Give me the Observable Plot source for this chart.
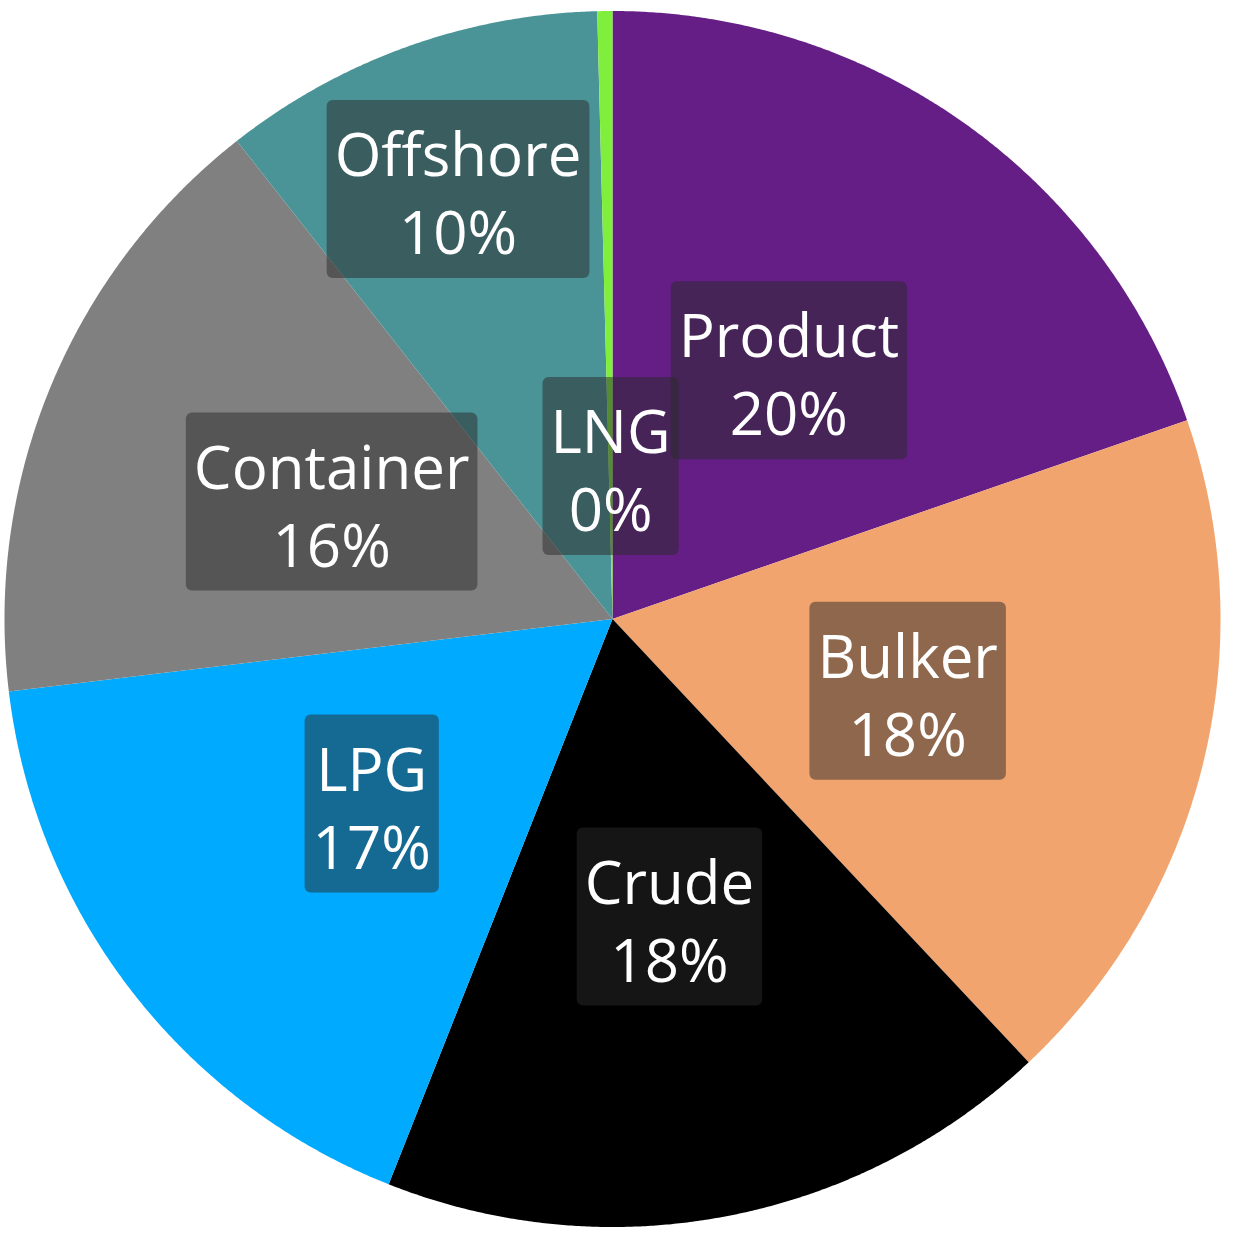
<!DOCTYPE html>
<html><head><meta charset="utf-8">
<script src="https://cdn.jsdelivr.net/npm/d3@7"></script>
<script src="https://cdn.jsdelivr.net/npm/@observablehq/plot@0.6"></script>
<style>html,body{margin:0;padding:0;background:#fff} svg{display:block}</style>
</head><body><div id="chart"></div>
<script>
// Data (shares in %; clockwise from 12 o'clock)
const categories = ["Product", "Bulker", "Crude", "LPG", "Container", "Offshore", "LNG"];
const shares = [19.7, 18.3, 18.0, 17.1, 16.3, 10.2, 0.4];

// Style
const palette = ["#641E86", "#F2A46E", "#000000", "#00AAFF", "#808080", "#4A9396", "#80EE3C"];
const labelRadius = {Offshore: 0.75, LNG: 0.25}; // others at 0.5 of radius

const total = d3.sum(shares);
const arcs = d3.pie().sort(null).value(d => d)(shares);
const step = Math.PI / 720;

const slices = arcs.map((a, i) => {
  const n = Math.max(2, Math.ceil((a.endAngle - a.startAngle) / step));
  const ring = [[0, 0]];
  for (let k = 0; k <= n; k++) {
    const t = a.startAngle + (a.endAngle - a.startAngle) * k / n;
    ring.push([Math.sin(t), Math.cos(t)]);
  }
  ring.push([0, 0]);
  return {type: "Feature", properties: {category: categories[i]}, geometry: {type: "Polygon", coordinates: [ring]}};
});

const labels = arcs.map((a, i) => {
  const mid = (a.startAngle + a.endAngle) / 2;
  const r = labelRadius[categories[i]] ?? 0.5;
  return {
    category: categories[i],
    pct: Math.round(shares[i] / total * 100),
    x: r * Math.sin(mid),
    y: r * Math.cos(mid)
  };
});

const chart = Plot.plot({
  width: 1234,
  height: 1250,
  marginLeft: 4,
  marginRight: 14,
  marginTop: 10,
  marginBottom: 23,
  projection: {type: "reflect-y", domain: {type: "MultiPoint", coordinates: [[-1, -1], [1, 1]]}},
  color: {domain: categories, range: palette},
  style: {background: "white"},
  marks: [
    Plot.geo(slices, {fill: d => d.properties.category, stroke: "none"}),
    Plot.text(labels, {
      x: "x", y: "y",
      text: d => `${d.category}\n${d.pct}%`,
      fill: "white",
      fontSize: 60,
      fontFamily: "Open Sans, Noto Sans, sans-serif",
      lineHeight: 1.3,
      className: "slice-label"
    })
  ]
});
document.getElementById("chart").appendChild(chart);

// Rounded translucent boxes behind the labels
const textG = chart.querySelector("g.slice-label") || [...chart.querySelectorAll("g[aria-label='text']")].pop();
if (textG) {
  const ns = "http://www.w3.org/2000/svg";
  const boxG = document.createElementNS(ns, "g");
  if (textG.getAttribute("transform")) boxG.setAttribute("transform", textG.getAttribute("transform"));
  textG.querySelectorAll("text").forEach(t => {
    const b = t.getBBox();
    const padX = 8, padTop = 12, padBottom = 6;
    const r = document.createElementNS(ns, "rect");
    r.setAttribute("x", b.x - padX);
    r.setAttribute("y", b.y - padTop);
    r.setAttribute("width", b.width + 2 * padX);
    r.setAttribute("height", b.height + padTop + padBottom);
    r.setAttribute("rx", 6);
    r.setAttribute("fill", "#2a2a2a");
    r.setAttribute("fill-opacity", 0.5);
    if (t.getAttribute("transform")) r.setAttribute("transform", t.getAttribute("transform"));
    boxG.appendChild(r);
  });
  textG.parentNode.insertBefore(boxG, textG);
}
</script>
</body></html>
